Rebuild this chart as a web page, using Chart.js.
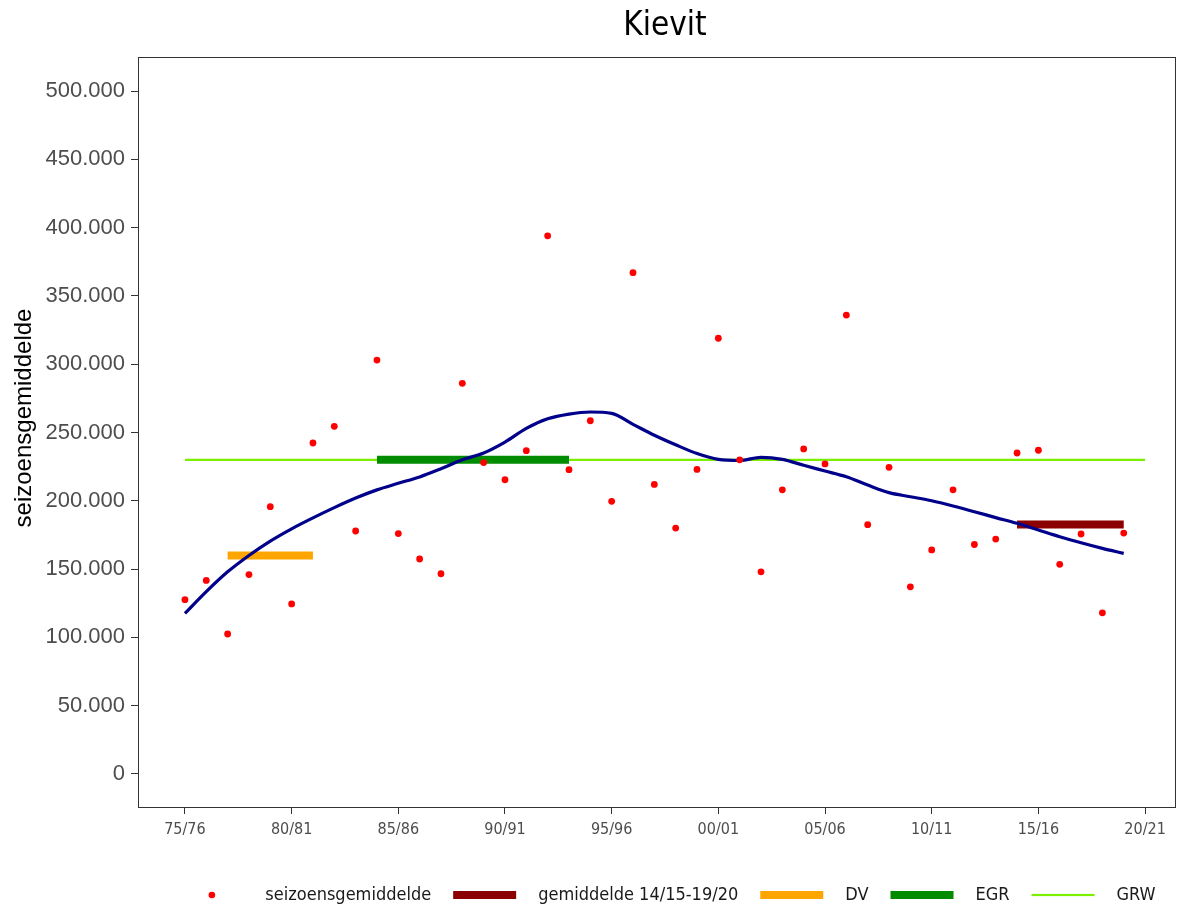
<!DOCTYPE html>
<html><head><meta charset="utf-8">
<script src="https://cdn.jsdelivr.net/npm/chart.js@4.4.1/dist/chart.umd.min.js"></script>
<style>html,body{margin:0;padding:0;background:#fff;} #wrap{width:1188px;height:906px;}</style>
</head><body><div id="wrap"><canvas id="c" width="1188" height="906"></canvas></div>
<script>
// ---- data ----
const chartTitle = 'Kievit';
const yAxisTitle = 'seizoensgemiddelde';
const seasons = ['75/76','76/77','77/78','78/79','79/80','80/81','81/82','82/83','83/84','84/85',
  '85/86','86/87','87/88','88/89','89/90','90/91','91/92','92/93','93/94','94/95',
  '95/96','96/97','97/98','98/99','99/00','00/01','01/02','02/03','03/04','04/05',
  '05/06','06/07','07/08','08/09','09/10','10/11','11/12','12/13','13/14','14/15',
  '15/16','16/17','17/18','18/19','19/20'];
const xTickLabels = ['75/76','80/81','85/86','90/91','95/96','00/01','05/06','10/11','15/16','20/21'];
const seasonAverages = [127600,141700,102500,146000,195700,124500,242300,254500,177900,303000,
  176000,157400,146600,286000,228000,215400,236700,394000,222800,258600,
  199600,367000,212000,180000,223000,319000,230000,148000,208000,238000,
  227000,336000,182500,224500,137000,164000,208000,168000,172000,235000,
  237000,153500,175700,118000,176400];
const trendValues = [117600,133500,148000,160000,170500,179500,187500,195000,202000,208000,
  212800,217500,223500,230000,235000,243000,253000,260000,263500,265000,
  264000,256000,248000,241000,234600,230300,229500,231800,230300,226000,
  221800,217600,211500,206000,203000,200000,196200,192000,187700,183500,
  178600,173700,169300,165200,161500];
const recentAvgLabel = 'gemiddelde 14/15-19/20';
const recentAvgValue = 182600;
const recentAvgRange = ['14/15','19/20'];
const dvValue = 160000;
const dvRange = ['77/78','81/82'];
const egrValue = 230000;
const egrRange = ['84/85','93/94'];
const grwValue = 230000;
const grwRange = ['75/76','20/21'];
const yTickValues = [0,50000,100000,150000,200000,250000,300000,350000,400000,450000,500000];

// ---- helpers ----
function seasonIndex(s){ const yy = parseInt(s.split('/')[0],10); const year = yy < 50 ? 2000+yy : 1900+yy; return year - 1975; }
function segment(range, value){ return range.map(s => ({x: seasonIndex(s), y: value})); }
function fmt(v){ if (v === 0) return '0'; const t = Math.round(v/1000); return t + '.000'; }

const COND = '"DejaVu Sans Condensed", "DejaVu Sans", sans-serif';
const ARIAL = '"Liberation Sans", Arial, sans-serif';

const framePlugin = {
  id: 'frame',
  afterDraw(chart){
    const {ctx, chartArea: a} = chart;
    ctx.save();
    ctx.strokeStyle = '#333333'; ctx.lineWidth = 1;
    ctx.strokeRect(Math.round(a.left)+0.5, Math.round(a.top)+0.5, Math.round(a.right-a.left)-1, Math.round(a.bottom-a.top)-1);
    // main title
    ctx.font = '33px ' + COND;
    ctx.fillStyle = '#000';
    ctx.textAlign = 'center'; ctx.textBaseline = 'middle';
    ctx.fillText(chartTitle, 665, 26);
    // y axis title
    ctx.translate(24, 418);
    ctx.rotate(-Math.PI/2);
    ctx.font = '24px ' + ARIAL;
    ctx.fillText(yAxisTitle, 0, 0);
    ctx.restore();
  }
};

const legendPlugin = {
  id: 'ggLegend',
  afterDraw(chart){
    const ctx = chart.ctx;
    const items = chart.data.datasets.filter(d => d.legendKind).sort((a,b)=>a.legendRank-b.legendRank);
    ctx.save();
    ctx.font = '18px ' + COND;
    const keyW = 63, gap = 22, itemGap = 22;
    let total = 0;
    items.forEach((d,i) => { total += keyW + gap + ctx.measureText(d.label).width + (i ? itemGap : 0); });
    let x = 668 - total/2;
    const y = 895;
    items.forEach((d,i) => {
      if (i) x += itemGap;
      if (d.legendKind === 'point') {
        ctx.fillStyle = d.backgroundColor;
        ctx.beginPath(); ctx.arc(x + keyW/2, y, 3.3, 0, Math.PI*2); ctx.fill();
      } else {
        ctx.fillStyle = d.borderColor;
        const h = d.borderWidth;
        ctx.fillRect(x, y - h/2, keyW, h);
      }
      x += keyW + gap;
      ctx.fillStyle = '#1a1a1a';
      ctx.textBaseline = 'middle'; ctx.textAlign = 'left';
      ctx.fillText(d.label, x, y);
      x += ctx.measureText(d.label).width;
    });
    ctx.restore();
  }
};

new Chart(document.getElementById('c'), {
  type: 'scatter',
  data: {
    datasets: [
      { label: 'seizoensgemiddelde', legendKind: 'point', legendRank: 0, order: 0,
        data: seasonAverages.map((v,i)=>({x: seasonIndex(seasons[i]), y: v})),
        backgroundColor: '#FF0000', borderWidth: 0, pointRadius: 3.4, showLine: false },
      { label: 'trend', type: 'line', order: 1,
        data: trendValues.map((v,i)=>({x: seasonIndex(seasons[i]), y: v})),
        borderColor: '#00008B', borderWidth: 3.2, pointRadius: 0, cubicInterpolationMode: 'monotone', fill: false },
      { label: recentAvgLabel, type: 'line', legendKind: 'line', legendRank: 1, order: 2,
        data: segment(recentAvgRange, recentAvgValue), borderColor: '#8B0000', borderWidth: 8, pointRadius: 0, borderCapStyle: 'butt' },
      { label: 'DV', type: 'line', legendKind: 'line', legendRank: 2, order: 2,
        data: segment(dvRange, dvValue), borderColor: '#FFA500', borderWidth: 8, pointRadius: 0, borderCapStyle: 'butt' },
      { label: 'EGR', type: 'line', legendKind: 'line', legendRank: 3, order: 2,
        data: segment(egrRange, egrValue), borderColor: '#008B00', borderWidth: 8, pointRadius: 0, borderCapStyle: 'butt' },
      { label: 'GRW', type: 'line', legendKind: 'line', legendRank: 4, order: 3,
        data: segment(grwRange, grwValue), borderColor: '#7CEE00', borderWidth: 2.2, pointRadius: 0, borderCapStyle: 'butt' }
    ]
  },
  options: {
    responsive: false, animation: false, devicePixelRatio: 1,
    layout: { padding: { top: 57, right: 12, bottom: 0, left: 0 } },
    plugins: {
      legend: { display: false },
      tooltip: { enabled: false },
      title: { display: false }
    },
    scales: {
      x: { type: 'linear', min: -2.2, max: 46.45,
        afterFit(s){ s.height = 98; },
        afterBuildTicks(s){ s.ticks = xTickLabels.map(l => ({value: seasonIndex(l)})); },
        ticks: { autoSkip: false, maxRotation: 0, padding: 6, color: '#4D4D4D',
          font: { family: COND, size: 16 },
          callback: (v) => xTickLabels.find(l => seasonIndex(l) === v) || '' },
        grid: { display: true, drawOnChartArea: false, drawTicks: true, tickLength: 6, color: '#333333', lineWidth: 1 },
        border: { display: false }
      },
      y: { type: 'linear', min: -24900, max: 524900,
        afterFit(s){ s.width = 138; },
        afterBuildTicks(s){ s.ticks = yTickValues.map(v => ({value: v})); },
        ticks: { padding: 6, color: '#4D4D4D', font: { family: ARIAL, size: 22 },
          callback: (v) => fmt(v) },
        grid: { display: true, drawOnChartArea: false, drawTicks: true, tickLength: 7, color: '#333333', lineWidth: 1 },
        border: { display: false },
        title: { display: false }
      }
    }
  },
  plugins: [framePlugin, legendPlugin]
});
</script>
</body></html>
